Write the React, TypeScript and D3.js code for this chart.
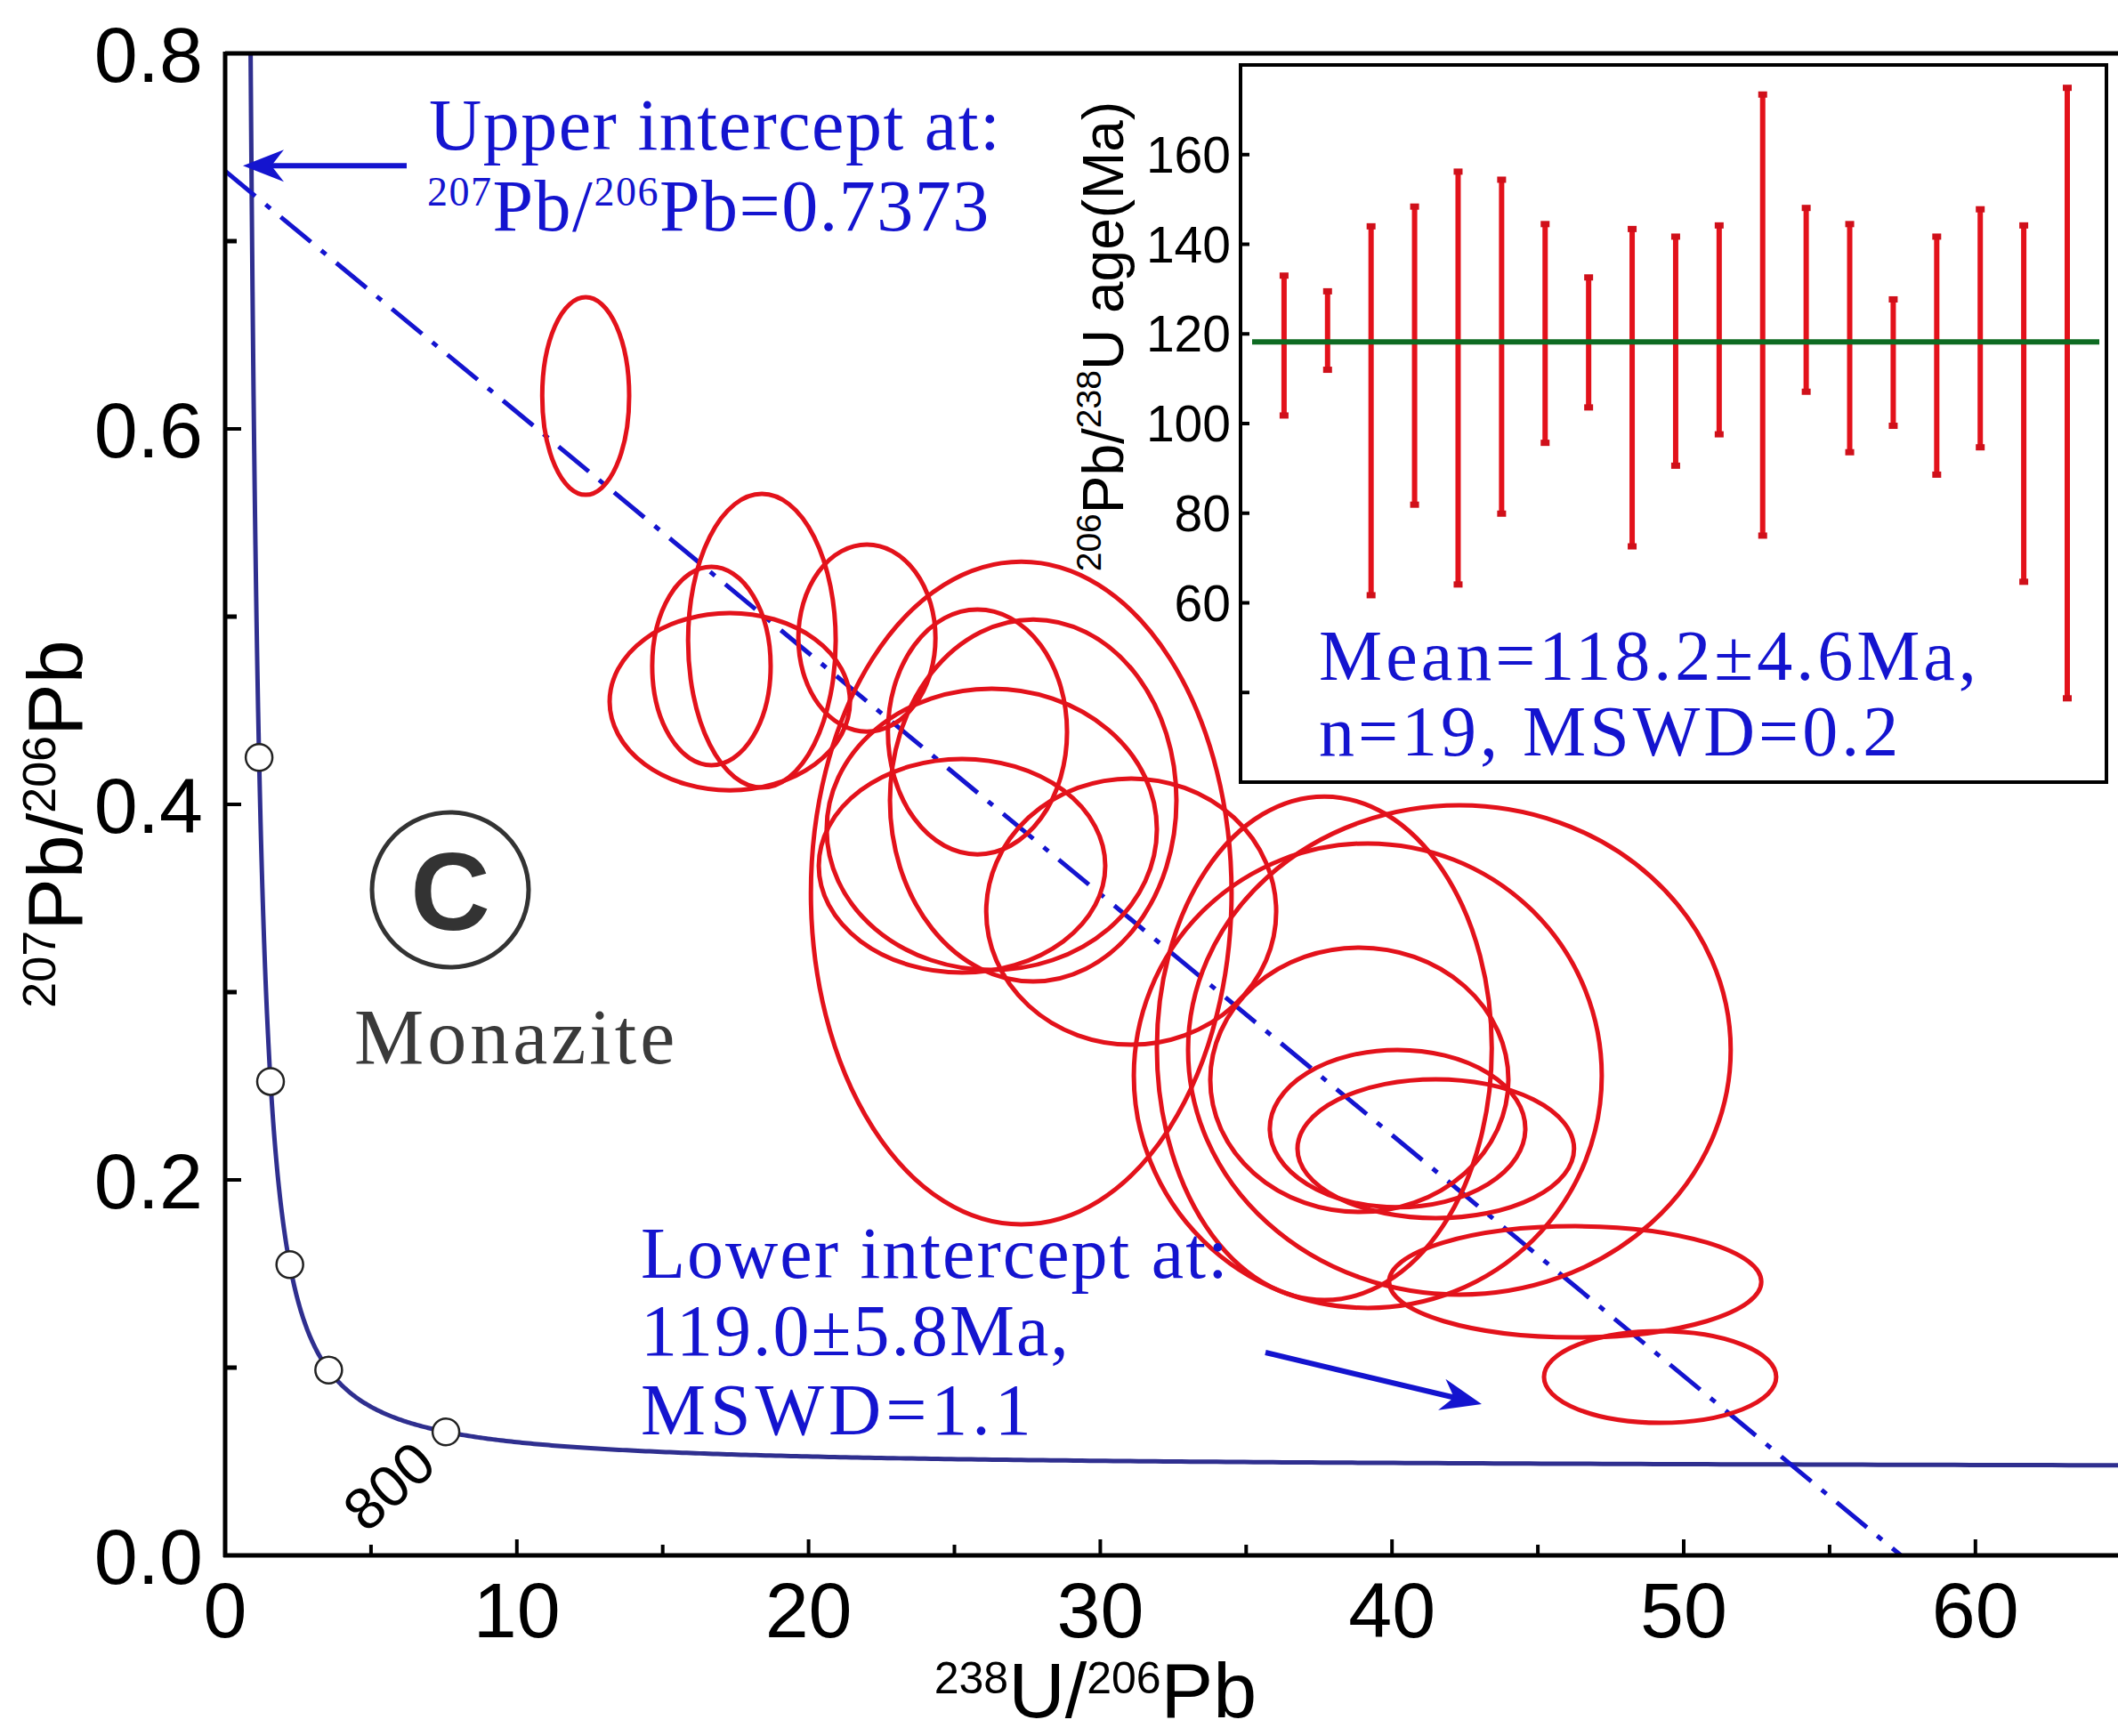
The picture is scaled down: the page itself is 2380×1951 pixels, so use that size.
import React from "react";
import * as d3 from "d3";

// ---- Tera-Wasserburg diagram: monazite U-Pb ----
// Ellipse centres and half-widths (238U/206Pb, 207Pb/206Pb)
const ELL_X = [12.36, 18.4, 16.67, 17.3, 22.0, 27.29, 25.79, 27.7, 26.28, 25.26, 31.06, 37.68, 42.31, 39.17, 38.88, 40.19, 41.5, 46.28, 49.19];
const ELL_Y = [0.6175, 0.4872, 0.4737, 0.4547, 0.4886, 0.3528, 0.4386, 0.4021, 0.3867, 0.3673, 0.3429, 0.2701, 0.2692, 0.2555, 0.2533, 0.2273, 0.2166, 0.1457, 0.095];
const ELL_SX = [1.49, 2.53, 2.03, 4.12, 2.35, 7.21, 3.07, 4.91, 5.66, 4.91, 4.97, 5.74, 9.3, 8.02, 5.11, 4.38, 4.74, 6.38, 3.98];
const ELL_SY = [0.0526, 0.0782, 0.0528, 0.0472, 0.0498, 0.1765, 0.0652, 0.0964, 0.0749, 0.0569, 0.0709, 0.1341, 0.1303, 0.1237, 0.0704, 0.0419, 0.037, 0.0296, 0.0244];

// Concordia age markers (Ma)
const CONCORDIA_MARKS = [800, 1600, 2400, 3200, 4000];

// Regression results
const UPPER_INTERCEPT = 0.7373; // 207Pb/206Pb
const LOWER_INTERCEPT_MA = 119.0;

// Axis ticks
const X_MAJOR = [0, 10, 20, 30, 40, 50, 60];
const X_MINOR = [5, 15, 25, 35, 45, 55];
const Y_MAJOR = [0, 0.2, 0.4, 0.6, 0.8];
const Y_MINOR = [0.1, 0.3, 0.5, 0.7];

// Inset: 206Pb/238U ages with error bars (Ma)
const AGE_HIGH = [133.1, 129.6, 144.1, 148.5, 156.3, 154.5, 144.6, 132.7, 143.5, 141.8, 144.3, 173.5, 148.2, 144.6, 127.8, 141.8, 147.9, 144.3, 175.0];
const AGE_LOW = [101.7, 111.9, 61.6, 81.8, 64.0, 79.8, 95.6, 103.5, 72.5, 90.5, 97.5, 74.9, 107.0, 93.5, 99.4, 88.5, 94.6, 64.6, 38.6];
const WEIGHTED_MEAN = 118.2;
const INSET_TICKS = [40, 60, 80, 100, 120, 140, 160];
const INSET_LABELS = [60, 80, 100, 120, 140, 160];

// Decay constants (Steiger & Jäger 1977)
const L238 = 1.55125e-10;
const L235 = 9.8485e-10;
const U_RATIO = 137.88;
function concordia(tMa: number): [number, number] {
  const e238 = Math.expm1(L238 * tMa * 1e6);
  const e235 = Math.expm1(L235 * tMa * 1e6);
  return [1 / e238, e235 / e238 / U_RATIO];
}

const SANS = "'Liberation Sans', Arial, Helvetica, sans-serif";
const SERIF = "'Liberation Serif', 'Times New Roman', serif";
const RED = "#e3121b";
const BLUE = "#1414cf";
const NAVY = "#2f2f8f";

function arrowHead(tx: number, ty: number, ang: number) {
  const pts: [number, number][] = [[0, 0], [-46, -18], [-32, 0], [-46, 18]];
  const c = Math.cos(ang), s = Math.sin(ang);
  return pts.map(([px, py]) => `${tx + px * c - py * s},${ty + px * s + py * c}`).join(" ");
}

export default function App() {
  const W = 2380, H = 1951;
  const x = d3.scaleLinear().domain([0, 65]).range([253, 253 + 65 * 32.78]);
  const y = d3.scaleLinear().domain([0, 0.8]).range([1748, 60]);

  // Concordia curve
  const ages = d3.range(0, 500).map((i) => 60 * Math.pow(5400 / 60, i / 499));
  const concLine = d3.line<[number, number]>().x((d) => x(d[0])).y((d) => y(d[1]));
  const concPath = concLine(ages.map(concordia)) || "";

  // Discordia through upper and lower intercepts
  const lower = concordia(LOWER_INTERCEPT_MA);
  const slope = (lower[1] - UPPER_INTERCEPT) / lower[0];
  const xAtZero = -UPPER_INTERCEPT / slope;

  // Inset scales
  const ix = d3.scaleLinear().domain([0, 19.9]).range([1394, 2367]);
  const iy = d3.scaleLinear().domain([20, 180]).range([879, 73]);

  const upperTip = { x: 273, y: y(UPPER_INTERCEPT) - 6 };
  const lowAng = Math.atan2(58, 243);

  return (
    <svg width={W} height={H} style={{ position: "absolute", left: 0, top: 0, display: "block", background: "#fff" }}>
      <defs>
        <clipPath id="plotClip">
          <rect x={253} y={60} width={W - 253} height={1748 - 60} />
        </clipPath>
      </defs>
      <rect x={0} y={0} width={W} height={H} fill="#fff" />

      <g clipPath="url(#plotClip)">
        {/* concordia */}
        <path d={concPath} fill="none" stroke={NAVY} strokeWidth={5} />
        {/* discordia */}
        <line x1={x(0)} y1={y(UPPER_INTERCEPT)} x2={x(xAtZero)} y2={y(0)} stroke={BLUE} strokeWidth={5} strokeDasharray="44 15 7 15" />
        {/* error ellipses */}
        {ELL_X.map((cx, i) => (
          <ellipse key={i} cx={x(cx)} cy={y(ELL_Y[i])} rx={x(cx + ELL_SX[i]) - x(cx)} ry={y(ELL_Y[i] - ELL_SY[i]) - y(ELL_Y[i])} fill="none" stroke={RED} strokeWidth={5} />
        ))}
        {/* concordia age markers */}
        {CONCORDIA_MARKS.map((t) => {
          const [cx, cy] = concordia(t);
          return <circle key={t} cx={x(cx)} cy={y(cy)} r={15} fill="#fff" stroke="#222" strokeWidth={2.5} />;
        })}
      </g>

      {/* frame */}
      <line x1={253} y1={60} x2={W} y2={60} stroke="#000" strokeWidth={5} />
      <line x1={253} y1={58} x2={253} y2={1750} stroke="#000" strokeWidth={5} />
      <line x1={251} y1={1748} x2={W} y2={1748} stroke="#000" strokeWidth={5} />

      {/* x ticks */}
      {X_MAJOR.map((v) => (
        <g key={"xm" + v}>
          <line x1={x(v)} x2={x(v)} y1={1748} y2={1748 - 18} stroke="#000" strokeWidth={4} />
          <text x={x(v)} y={1840} textAnchor="middle" fontFamily={SANS} fontSize={88} fill="#000">{v}</text>
        </g>
      ))}
      {X_MINOR.map((v) => (
        <line key={"xn" + v} x1={x(v)} x2={x(v)} y1={1748} y2={1748 - 12} stroke="#000" strokeWidth={4} />
      ))}
      {/* y ticks */}
      {Y_MAJOR.map((v) => (
        <g key={"ym" + v}>
          <line x1={253} x2={253 + 18} y1={y(v)} y2={y(v)} stroke="#000" strokeWidth={4} />
          <text x={228} y={y(v) + 32} textAnchor="end" fontFamily={SANS} fontSize={88} fill="#000">{v.toFixed(1)}</text>
        </g>
      ))}
      {Y_MINOR.map((v) => (
        <line key={"yn" + v} x1={253} x2={253 + 13} y1={y(v)} y2={y(v)} stroke="#000" strokeWidth={5} />
      ))}

      {/* axis titles */}
      <text x={1231} y={1930} textAnchor="middle" fontFamily={SANS} fontSize={88} fill="#000">
        <tspan fontSize={50} dy={-27}>238</tspan>
        <tspan dy={27}>U/</tspan>
        <tspan fontSize={50} dy={-27}>206</tspan>
        <tspan dy={27}>Pb</tspan>
      </text>
      <text transform="translate(92,926) rotate(-90)" textAnchor="middle" fontFamily={SANS} fontSize={88} fill="#000">
        <tspan fontSize={52} dy={-30}>207</tspan>
        <tspan dy={30}>Pb/</tspan>
        <tspan fontSize={52} dy={-30}>206</tspan>
        <tspan dy={30}>Pb</tspan>
      </text>

      {/* 800 Ma label */}
      <text transform="translate(437,1670) rotate(-42)" textAnchor="middle" dominantBaseline="central" fontFamily={SANS} fontSize={66} fill="#000">800</text>

      {/* sample label */}
      <ellipse cx={506} cy={1000} rx={88} ry={87} fill="none" stroke="#333" strokeWidth={5} />
      <text x={506} y={1045} textAnchor="middle" fontFamily={SANS} fontWeight="bold" fontSize={124} fill="#333">C</text>
      <text x={398} y={1195} fontFamily={SERIF} fontSize={88} letterSpacing={4} fill="#3a3a3a">Monazite</text>

      {/* upper intercept annotation */}
      <line x1={457} y1={upperTip.y} x2={300} y2={upperTip.y} stroke={BLUE} strokeWidth={6} />
      <polygon points={arrowHead(upperTip.x, upperTip.y, Math.PI)} fill={BLUE} />
      <text x={482} y={168} fontFamily={SERIF} fontSize={82} letterSpacing={1.5} fill={BLUE}>Upper intercept at:</text>
      <text x={480} y={259} fontFamily={SERIF} fontSize={82} letterSpacing={1.5} fill={BLUE}>
        <tspan fontSize={46} dy={-28}>207</tspan>
        <tspan dy={28}>Pb/</tspan>
        <tspan fontSize={46} dy={-28}>206</tspan>
        <tspan dy={28}>{"Pb=" + UPPER_INTERCEPT.toFixed(4)}</tspan>
      </text>

      {/* lower intercept annotation */}
      <text x={720} y={1436} fontFamily={SERIF} fontSize={82} letterSpacing={2} fill={BLUE}>Lower intercept at:</text>
      <text x={720} y={1523} fontFamily={SERIF} fontSize={82} letterSpacing={2} fill={BLUE}>{LOWER_INTERCEPT_MA.toFixed(1)}±5.8Ma,</text>
      <text x={720} y={1612} fontFamily={SERIF} fontSize={82} letterSpacing={5} fill={BLUE}>MSWD=1.1</text>
      <line x1={1422} y1={1520} x2={1665 - 30 * Math.cos(lowAng)} y2={1578 - 30 * Math.sin(lowAng)} stroke={BLUE} strokeWidth={6} />
      <polygon points={arrowHead(1665, 1578, lowAng)} fill={BLUE} />

      {/* inset: weighted mean of 206Pb/238U ages */}
      <rect x={1394} y={73} width={2367 - 1394} height={879 - 73} fill="#fff" stroke="#000" strokeWidth={4} />
      {INSET_TICKS.map((v) => (
        <line key={"it" + v} x1={1394} x2={1404} y1={iy(v)} y2={iy(v)} stroke="#000" strokeWidth={4} />
      ))}
      {INSET_LABELS.map((v) => (
        <text key={"il" + v} x={1383} y={iy(v) + 20} textAnchor="end" fontFamily={SANS} fontSize={57} fill="#000">{v}</text>
      ))}
      <text transform="translate(1262,378) rotate(-90)" textAnchor="middle" fontFamily={SANS} fontSize={64} fill="#000">
        <tspan fontSize={39} dy={-25}>206</tspan>
        <tspan dy={25}>Pb/</tspan>
        <tspan fontSize={39} dy={-25}>238</tspan>
        <tspan dy={25}>U age(Ma)</tspan>
      </text>
      {AGE_HIGH.map((hi, i) => {
        const cx = ix(i + 1);
        return (
          <g key={"b" + i}>
            <line x1={cx} x2={cx} y1={iy(hi)} y2={iy(AGE_LOW[i])} stroke={RED} strokeWidth={6} />
            <rect x={cx - 5} y={iy(hi) - 3} width={10} height={7} fill="#d0101a" />
            <rect x={cx - 5} y={iy(AGE_LOW[i]) - 4} width={10} height={7} fill="#d0101a" />
          </g>
        );
      })}
      <line x1={1407} x2={2359} y1={iy(WEIGHTED_MEAN)} y2={iy(WEIGHTED_MEAN)} stroke="#0e6b22" strokeWidth={6} />
      <text x={1482} y={764} fontFamily={SERIF} fontSize={80} letterSpacing={4} fill={BLUE}>{"Mean=" + WEIGHTED_MEAN.toFixed(1) + "±4.6Ma,"}</text>
      <text x={1482} y={849} fontFamily={SERIF} fontSize={80} letterSpacing={4} fill={BLUE}>n=19, MSWD=0.2</text>
    </svg>
  );
}
